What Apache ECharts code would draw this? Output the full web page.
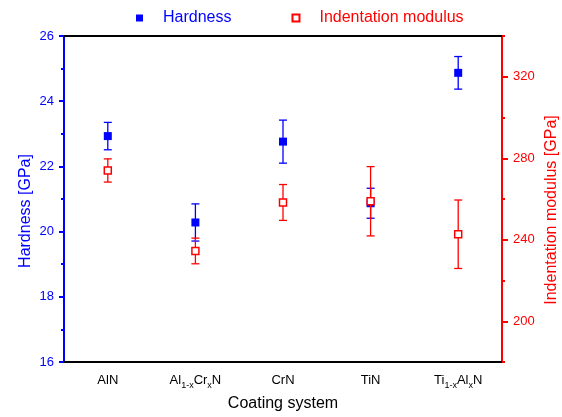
<!DOCTYPE html>
<html>
<head>
<meta charset="utf-8">
<script src="https://cdn.jsdelivr.net/npm/echarts@6/dist/echarts.min.js"></script>
<style>html,body{margin:0;padding:0;background:#fff}#c{width:562px;height:417px}</style>
</head>
<body>
<div id="c"></div>
<script>
// Data
var categories = ['AlN', 'Al1-xCrxN', 'CrN', 'TiN', 'Ti1-xAlxN'];
var categoryLabels = ['{n|AlN}', '{n|Al}{s|1-x}{n|Cr}{s|x}{n|N}', '{n|CrN}', '{n|TiN}', '{n|Ti}{s|1-x}{n|Al}{s|x}{n|N}'];
var hardness = [22.93, 20.28, 22.76, 20.87, 24.87];
var hardnessErr = [0.42, 0.57, 0.66, 0.46, 0.50];
var modulus = [274.0, 234.5, 258.3, 258.9, 242.7];
var modulusErr = [5.7, 6.3, 8.8, 17.0, 16.8];
var rightMajorTicks = [200, 240, 280, 320];
var rightMinorTicks = [180, 220, 260, 300, 340];

var BLUE = '#0000ff', RED = '#ff0000';
var FONT = 'Liberation Sans, Arial, sans-serif';

function errData(vals, errs) {
  return vals.map(function (v, i) { return [i, v - errs[i], v + errs[i]]; });
}
function errRender(color) {
  return function (params, api) {
    var x = api.value(0);
    var lo = api.coord([x, api.value(1)]);
    var hi = api.coord([x, api.value(2)]);
    var cap = 4;
    var st = { stroke: color, lineWidth: 1.3 };
    return {
      type: 'group',
      children: [
        { type: 'line', shape: { x1: lo[0], y1: lo[1], x2: hi[0], y2: hi[1] }, style: st },
        { type: 'line', shape: { x1: lo[0] - cap, y1: lo[1], x2: lo[0] + cap, y2: lo[1] }, style: st },
        { type: 'line', shape: { x1: hi[0] - cap, y1: hi[1], x2: hi[0] + cap, y2: hi[1] }, style: st }
      ]
    };
  };
}

var chart = echarts.init(document.getElementById('c'), null, { renderer: 'canvas' });
var option = {
  animation: false,
  textStyle: { fontFamily: FONT },
  grid: { left: 64, right: 60, top: 36, bottom: 55, outerBoundsMode: 'none', containLabel: false },
  legend: {
    top: 5, left: 131,
    itemWidth: 7, itemHeight: 7, itemGap: 60,
    textStyle: { fontSize: 16, fontFamily: FONT, padding: [0, 0, 0, 15] },
    data: [
      { name: 'Hardness', icon: 'rect', textStyle: { color: BLUE } },
      { name: 'Indentation modulus', icon: 'rect', textStyle: { color: RED } }
    ]
  },
  xAxis: [
    {
      type: 'category', position: 'bottom', data: categories,
      axisLine: { lineStyle: { color: '#000', width: 2 } },
      axisTick: { alignWithLabel: true, length: 6, lineStyle: { color: '#000', width: 2 } },
      axisLabel: {
        interval: 0, margin: 8, color: '#000',
        formatter: function (v, i) { return categoryLabels[i]; },
        rich: {
          n: { fontSize: 13, color: '#000', lineHeight: 20, fontFamily: FONT },
          s: { fontSize: 9, color: '#000', lineHeight: 20, verticalAlign: 'bottom', fontFamily: FONT }
        }
      },
      name: 'Coating system', nameLocation: 'middle', nameGap: 34,
      nameTextStyle: { fontSize: 16, color: '#000', fontFamily: FONT }
    },
    {
      type: 'category', position: 'top', data: categories,
      axisLine: { lineStyle: { color: '#000', width: 2 } },
      axisTick: { alignWithLabel: true, inside: true, length: 6, lineStyle: { color: '#000', width: 2 } },
      axisLabel: { show: false }
    }
  ],
  yAxis: [
    {
      type: 'value', position: 'left', min: 16, max: 26, interval: 2,
      axisLine: { show: true, lineStyle: { color: BLUE, width: 2 } },
      axisTick: { show: true, length: 5, lineStyle: { color: BLUE, width: 2 } },
      minorTick: { show: true, splitNumber: 2, length: 3, lineStyle: { color: BLUE, width: 2 } },
      splitLine: { show: false },
      axisLabel: { color: BLUE, fontSize: 13, margin: 10, fontFamily: FONT },
      name: 'Hardness [GPa]', nameLocation: 'middle', nameGap: 30, nameRotate: 90, nameMoveOverlap: false,
      nameTextStyle: { fontSize: 16, color: BLUE, fontFamily: FONT, padding: [0, 24, 0, 0] }
    },
    {
      type: 'value', position: 'right', min: 180, max: 340,
      axisLine: { show: true, lineStyle: { color: RED, width: 2 } },
      axisTick: { show: true, length: 6, customValues: rightMajorTicks, lineStyle: { color: RED, width: 2 } },
      splitLine: { show: false },
      axisLabel: { color: RED, fontSize: 13, margin: 11, customValues: rightMajorTicks, fontFamily: FONT },
      name: 'Indentation modulus [GPa]', nameLocation: 'middle', nameGap: 42, nameRotate: 90, nameMoveOverlap: false,
      nameTextStyle: { fontSize: 16, color: RED, fontFamily: FONT, padding: [0, 22, 0, 0] }
    },
    {
      type: 'value', position: 'right', min: 180, max: 340,
      axisLine: { show: false },
      axisTick: { show: true, length: 3, customValues: rightMinorTicks, lineStyle: { color: RED, width: 2 } },
      splitLine: { show: false },
      axisLabel: { show: false }
    }
  ],
  series: [
    {
      type: 'custom', name: 'HardnessErr', xAxisIndex: 0, yAxisIndex: 0,
      renderItem: errRender(BLUE), data: errData(hardness, hardnessErr), z: 2
    },
    {
      type: 'scatter', name: 'Hardness', xAxisIndex: 0, yAxisIndex: 0,
      symbol: 'rect', symbolSize: 8,
      itemStyle: { color: BLUE, opacity: 1 },
      data: hardness, z: 3
    },
    {
      type: 'custom', name: 'ModulusErr', xAxisIndex: 0, yAxisIndex: 1,
      renderItem: errRender(RED), data: errData(modulus, modulusErr), z: 4
    },
    {
      type: 'scatter', name: 'Indentation modulus', xAxisIndex: 0, yAxisIndex: 1,
      symbol: 'rect', symbolSize: 7,
      itemStyle: { color: '#fff', borderColor: RED, borderWidth: 1.5, opacity: 1 },
      data: modulus, z: 5
    }
  ]
};
chart.setOption(option);
</script>
</body>
</html>
